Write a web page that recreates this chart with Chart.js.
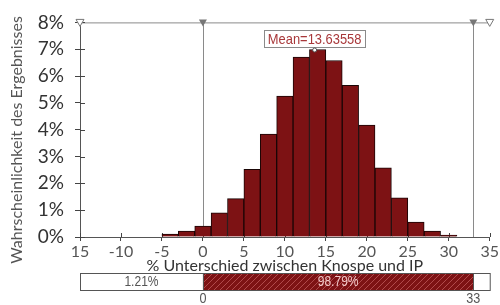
<!DOCTYPE html>
<html>
<head>
<meta charset="utf-8">
<script src="https://cdn.jsdelivr.net/npm/chart.js@4"></script>
<style>
  body { margin: 0; background: #fff; }
  #wrap { width: 500px; height: 305px; }
</style>
</head>
<body>
<div id="wrap"><canvas id="histChart" width="500" height="305"></canvas></div>
<script>
// bin centres (width 2) and probability in %
const binCenters = [-4, -2, 0, 2, 4, 6, 8, 10, 12, 14, 16, 18, 20, 22, 24, 26, 28, 30];
const binValues = [0.11, 0.22, 0.41, 0.9, 1.43, 2.52, 3.84, 5.25, 6.71, 6.99, 6.58, 5.65, 4.17, 2.58, 1.46, 0.56, 0.22, 0.07];
const xTickLabels = ['15', '-10', '-5', '0', '5', '10', '15', '20', '25', '30', '35'];
const yTickLabels = ['0%', '1%', '2%', '3%', '4%', '5%', '6%', '7%', '8%'];
const yTitle = 'Wahrscheinlichkeit des Ergebnisses';
const meanValue = 13.63558;
const lowerBound = 0;
const upperBound = 33;
const leftShare = '1.21%';
const midShare = '98.79%';

const barRed = '#7d1214';
const narrowFont = '"Liberation Sans", Arial, sans-serif';

function makeHatch(ctx) {
  const c = document.createElement('canvas');
  c.width = 6; c.height = 6;
  const p = c.getContext('2d');
  p.fillStyle = barRed;
  p.fillRect(0, 0, 6, 6);
  p.strokeStyle = '#b0494b';
  p.lineWidth = 1;
  p.beginPath();
  p.moveTo(0, 6); p.lineTo(6, 0);
  p.moveTo(-3, 3); p.lineTo(3, -3);
  p.moveTo(3, 9); p.lineTo(9, 3);
  p.stroke();
  return ctx.createPattern(c, 'repeat');
}

// condensed text, like the narrow font of the original
function narrowText(ctx, txt, x, y, sx) {
  ctx.save();
  ctx.translate(x, y);
  ctx.scale(sx, 1);
  ctx.fillText(txt, 0, 0);
  ctx.restore();
}

const overlay = {
  id: 'overlay',
  beforeDatasetsDraw(chart) {
    const { ctx, chartArea: a, scales: { x, y } } = chart;
    ctx.save();
    ctx.strokeStyle = '#8a8a8a';
    ctx.lineWidth = 1;
    ctx.beginPath();
    ctx.moveTo(a.left, a.top + 0.5); ctx.lineTo(a.right, a.top + 0.5);
    [lowerBound, upperBound].forEach(v => {
      const px = Math.round(x.getPixelForValue(v)) + 0.5;
      ctx.moveTo(px, a.top); ctx.lineTo(px, a.bottom);
    });
    ctx.stroke();
    // inner halves of the tick marks
    ctx.strokeStyle = '#444';
    ctx.beginPath();
    y.ticks.forEach(t => {
      const py = Math.round(y.getPixelForValue(t.value)) + 0.5;
      ctx.moveTo(a.left, py); ctx.lineTo(a.left + 5, py);
    });
    x.ticks.forEach(t => {
      const px = Math.round(x.getPixelForValue(t.value)) + 0.5;
      ctx.moveTo(px, a.bottom); ctx.lineTo(px, a.bottom - 4);
    });
    ctx.stroke();
    // markers on the top line
    const tri = (px, filled) => {
      ctx.beginPath();
      ctx.moveTo(px - 4, a.top - 3); ctx.lineTo(px + 4, a.top - 3); ctx.lineTo(px, a.top + 4);
      ctx.closePath();
      if (filled) { ctx.fillStyle = '#777'; ctx.fill(); }
      else { ctx.fillStyle = '#fff'; ctx.fill(); ctx.strokeStyle = '#777'; ctx.stroke(); }
    };
    tri(x.getPixelForValue(x.min), false);
    tri(x.getPixelForValue(lowerBound), true);
    tri(x.getPixelForValue(upperBound), true);
    tri(x.getPixelForValue(x.max), false);
    ctx.restore();
  },
  afterDraw(chart) {
    const { ctx, chartArea: a, scales: { x } } = chart;
    ctx.save();
    // y title
    ctx.save();
    ctx.translate(17, 140);
    ctx.rotate(-Math.PI / 2);
    ctx.font = '16px Lato';
    ctx.fillStyle = '#555';
    ctx.textAlign = 'center';
    ctx.textBaseline = 'middle';
    ctx.fillText(yTitle, 0, 0);
    ctx.restore();

    // mean label
    const mx = x.getPixelForValue(meanValue);
    ctx.font = '15px ' + narrowFont;
    const txt = 'Mean=' + meanValue;
    const tw = ctx.measureText(txt).width * 0.86;
    const w = tw + 7;
    ctx.fillStyle = '#fff';
    ctx.fillRect(mx - w / 2, 30, w, 17);
    ctx.strokeStyle = '#8a8a8a';
    ctx.strokeRect(Math.round(mx - w / 2) + 0.5, 30.5, Math.round(w), 17);
    ctx.fillStyle = '#a8383a';
    ctx.textAlign = 'center';
    ctx.textBaseline = 'middle';
    narrowText(ctx, txt, mx, 39.5, 0.86);
    ctx.beginPath();
    ctx.arc(mx, 50, 2, 0, Math.PI * 2);
    ctx.fillStyle = '#fff'; ctx.fill();
    ctx.strokeStyle = '#555'; ctx.stroke();

    // bottom range bar
    const top = 273, h = 17;
    const x0 = a.left, x1 = x.getPixelForValue(lowerBound), x2 = x.getPixelForValue(upperBound), x3 = a.right + 1;
    ctx.fillStyle = '#fff';
    ctx.fillRect(x0, top, x3 - x0, h);
    ctx.fillStyle = makeHatch(ctx);
    ctx.fillRect(x1, top, x2 - x1, h);
    ctx.strokeStyle = '#555';
    ctx.strokeRect(x0 + 0.5, top + 0.5, x3 - x0 - 1, h);
    ctx.beginPath();
    ctx.moveTo(Math.round(x1) + 0.5, top); ctx.lineTo(Math.round(x1) + 0.5, top + h);
    ctx.moveTo(Math.round(x2) + 0.5, top); ctx.lineTo(Math.round(x2) + 0.5, top + h);
    ctx.stroke();
    ctx.font = '14px ' + narrowFont;
    ctx.fillStyle = '#555';
    narrowText(ctx, leftShare, (x0 + x1) / 2, top + h / 2 + 1, 0.86);
    ctx.fillStyle = '#f2c9c9';
    narrowText(ctx, midShare, (x1 + x2) / 2, top + h / 2 + 1, 0.86);
    ctx.fillStyle = '#555';
    narrowText(ctx, String(lowerBound), x1, 299, 0.9);
    narrowText(ctx, String(upperBound), x2, 299, 0.9);
    ctx.restore();
  }
};

const ctx = document.getElementById('histChart').getContext('2d');
new Chart(ctx, {
  type: 'bar',
  data: {
    datasets: [{
      data: binCenters.map((c, i) => ({ x: c, y: binValues[i] })),
      backgroundColor: barRed,
      borderColor: '#1a0505',
      borderWidth: 1,
      barPercentage: 1,
      categoryPercentage: 1
    }]
  },
  options: {
    responsive: false,
    animation: false,
    layout: { padding: { left: 0, right: 6, top: 21, bottom: 30 } },
    plugins: {
      legend: { display: false },
      tooltip: { enabled: false }
    },
    scales: {
      x: {
        type: 'linear',
        min: -15,
        max: 35,
        offset: false,
        afterFit: s => { s.height = 38; },
        grid: { offset: false, drawOnChartArea: false, tickLength: 4, color: '#444' },
        border: { color: '#555', width: 1 },
        ticks: {
          stepSize: 5,
          padding: 1,
          maxRotation: 0,
          autoSkip: false,
          color: '#555',
          font: { family: 'Lato', size: 16 },
          callback: (v, i) => xTickLabels[i]
        },
        title: {
          display: true,
          text: '% Unterschied zwischen Knospe und IP',
          color: '#333',
          padding: 0,
          font: { family: 'Lato', size: 16 }
        }
      },
      y: {
        min: 0,
        max: 8,
        afterFit: s => { s.width = 80; },
        grid: { drawOnChartArea: false, tickLength: 5, color: '#444' },
        border: { color: '#555', width: 1 },
        ticks: {
          stepSize: 1,
          padding: 11,
          autoSkip: false,
          color: '#333',
          font: { family: 'Lato', size: 19 },
          callback: (v, i) => yTickLabels[i]
        }
      }
    }
  },
  plugins: [overlay]
});
</script>
</body>
</html>
